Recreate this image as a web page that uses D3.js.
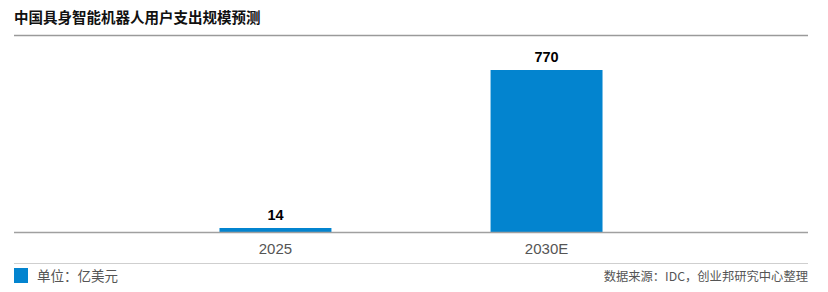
<!DOCTYPE html>
<html><head><meta charset="utf-8">
<script src="https://cdn.jsdelivr.net/npm/d3@7"></script>
<style>
html,body{margin:0;padding:0;background:#fff;}
svg{display:block;font-family:"Liberation Sans","Noto Sans CJK SC",sans-serif;}
</style></head>
<body><svg id="c" width="828" height="292"></svg>
<script>
const title = "中国具身智能机器人用户支出规模预测";
const categories = ["2025", "2030E"];
const values = [14, 770];
const unitLabel = "单位：亿美元";
const sourceLabel = "数据来源：IDC，创业邦研究中心整理";

const svg = d3.select("#c");
const W = 828, left = 14, right = 808;
const axisY = 232, topY = 70;
const barColor = "#0384CF";
const cjk = "'Noto Sans CJK SC','Liberation Sans',sans-serif";

// title
svg.append("text").attr("x", left).attr("y", 23)
  .attr("font-family", cjk).attr("font-weight", "bold").attr("font-size", 14.5)
  .attr("fill", "#111").text(title);
svg.append("line").attr("x1", left).attr("x2", right).attr("y1", 35.5).attr("y2", 35.5)
  .attr("stroke", "#9a9a9a").attr("stroke-width", 1.5);

const x = d3.scaleBand().domain(categories).range([left, right])
  .paddingInner(0.587).paddingOuter(0.758);
const y = d3.scaleLinear().domain([0, 770]).range([axisY, topY]);

svg.selectAll("rect.bar").data(values).join("rect").attr("class", "bar")
  .attr("x", (d, i) => x(categories[i]))
  .attr("width", x.bandwidth())
  .attr("y", d => Math.min(y(d), axisY - 4))
  .attr("height", d => axisY - Math.min(y(d), axisY - 4))
  .attr("fill", barColor);

svg.selectAll("text.val").data(values).join("text").attr("class", "val")
  .attr("x", (d, i) => x(categories[i]) + x.bandwidth() / 2)
  .attr("y", d => Math.min(y(d), axisY - 4) - 8)
  .attr("text-anchor", "middle").attr("font-weight", "bold").attr("font-size", 14.5)
  .attr("fill", "#000").text(d => d);

// axis
const ax = svg.append("g").attr("transform", `translate(0,${axisY})`)
  .call(d3.axisBottom(x).tickSize(0).tickPadding(11));
ax.select(".domain").remove();
ax.selectAll("text").attr("font-size", 15).attr("fill", "#555")
  .attr("font-family", "'Liberation Sans',sans-serif");
svg.append("line").attr("x1", left).attr("x2", right).attr("y1", axisY + 0.5).attr("y2", axisY + 0.5)
  .attr("stroke", "#a0a0a0").attr("stroke-width", 1.5);

// footer
svg.append("line").attr("x1", left).attr("x2", right).attr("y1", 263.5).attr("y2", 263.5)
  .attr("stroke", "#cfcfcf").attr("stroke-width", 1);
svg.append("rect").attr("x", left).attr("y", 268).attr("width", 14).attr("height", 15)
  .attr("fill", barColor);
svg.append("text").attr("x", 37).attr("y", 281)
  .attr("font-family", cjk).attr("font-size", 13.5).attr("fill", "#555").text(unitLabel);
svg.append("text").attr("x", right).attr("y", 280.5).attr("text-anchor", "end")
  .attr("font-family", cjk).attr("font-size", 12.3).attr("fill", "#555").text(sourceLabel);
</script></body></html>
